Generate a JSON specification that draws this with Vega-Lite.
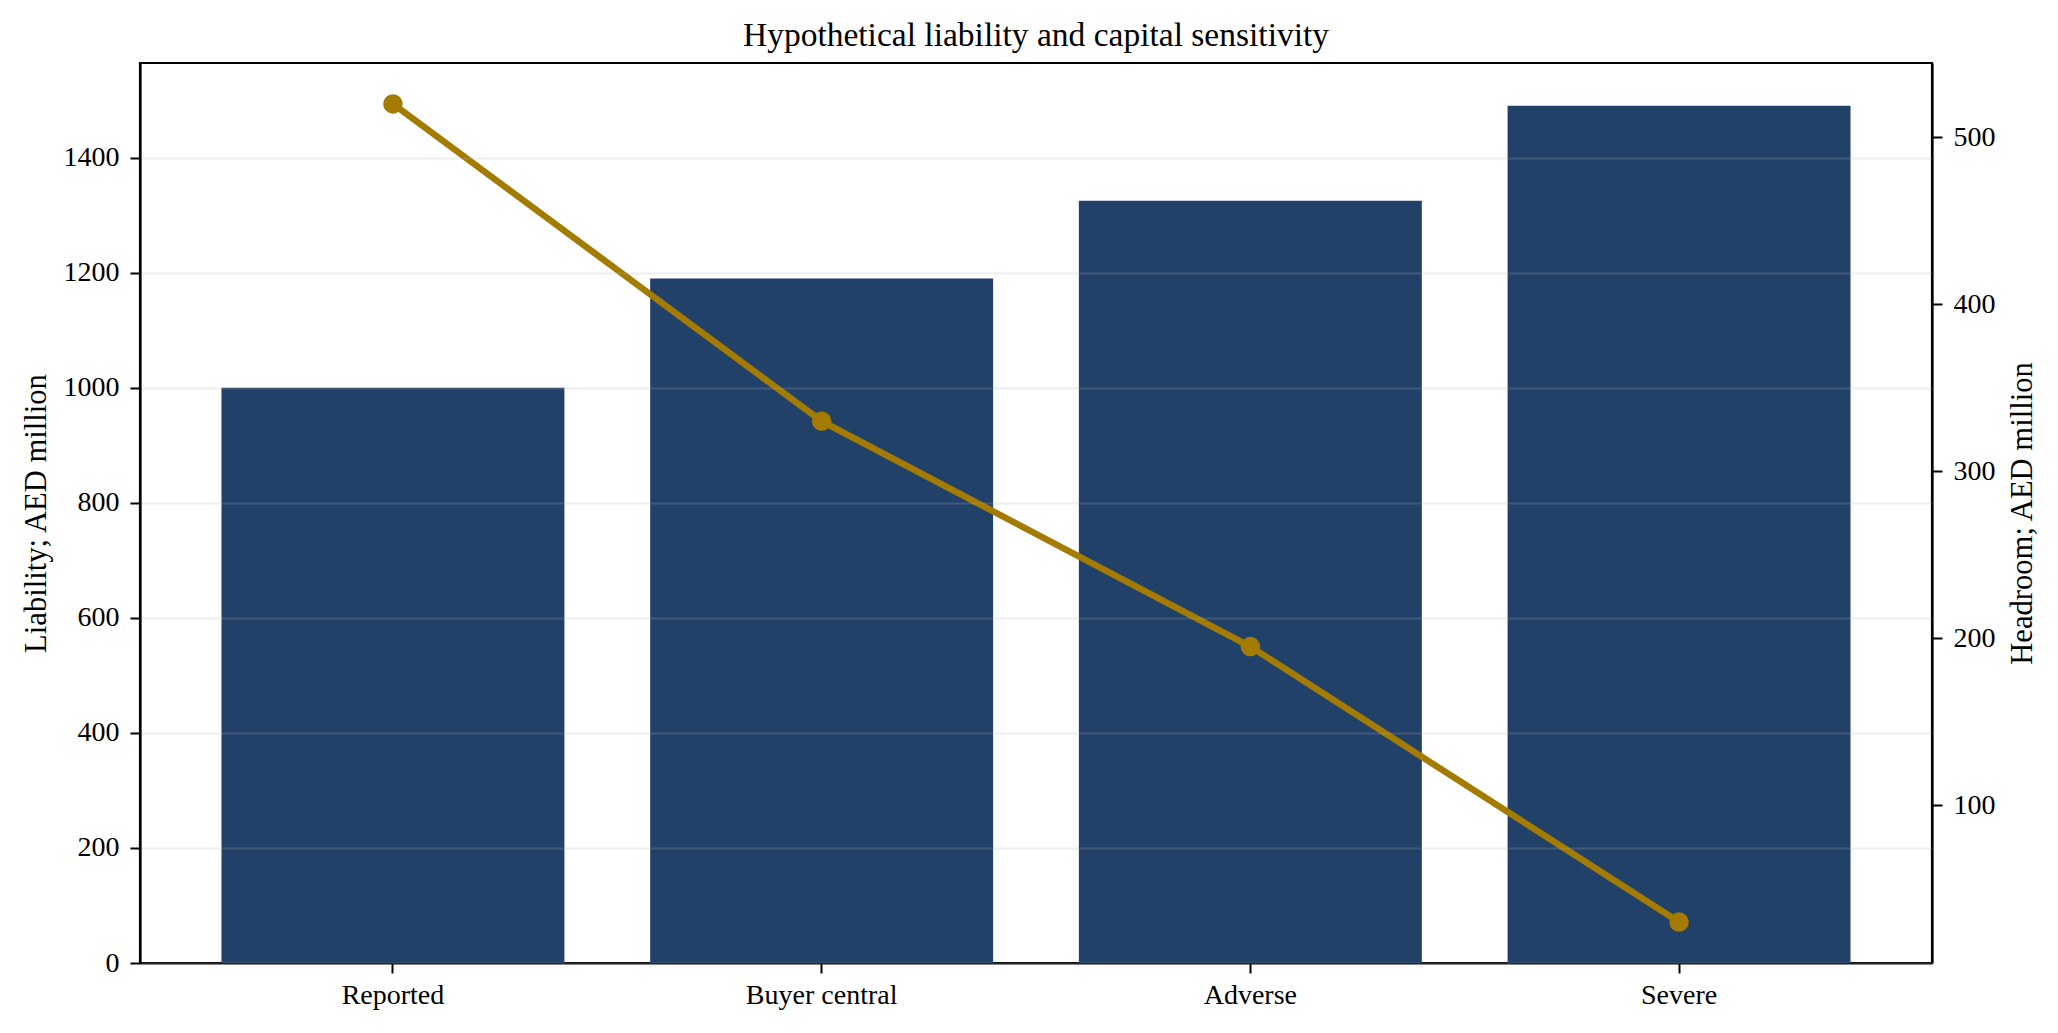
{
  "$schema": "https://vega.github.io/schema/vega-lite/v6.json",
  "description": "Hypothetical liability (bars) and capital headroom (line) by scenario.",
  "autosize": {"type": "none"},
  "width": 1792,
  "height": 900,
  "padding": {"left": 140, "top": 63, "right": 126, "bottom": 70},
  "background": "white",
  "title": {
    "text": "Hypothetical liability and capital sensitivity",
    "font": "Liberation Serif",
    "fontSize": 33.5,
    "fontWeight": "normal",
    "color": "black",
    "anchor": "middle",
    "baseline": "alphabetic",
    "offset": 10,
    "dy": 26
  },
  "data": {
    "values": [
      {"Scenario": "Reported", "Liability": 1000, "Headroom": 520},
      {"Scenario": "Buyer central", "Liability": 1190, "Headroom": 330},
      {"Scenario": "Adverse", "Liability": 1325, "Headroom": 195},
      {"Scenario": "Severe", "Liability": 1490, "Headroom": 30}
    ]
  },
  "encoding": {
    "x": {
      "field": "Scenario",
      "type": "nominal",
      "sort": null,
      "scale": {"paddingInner": 0.2, "paddingOuter": 0.19},
      "axis": {"title": null, "labelAngle": 0, "labelPadding": 8}
    }
  },
  "layer": [
    {
      "mark": {"type": "bar", "color": "#224169"},
      "encoding": {
        "y": {
          "field": "Liability",
          "type": "quantitative",
          "scale": {"domain": [0, 1564.5], "nice": false},
          "axis": {
            "title": "Liability; AED million",
            "values": [0, 200, 400, 600, 800, 1000, 1200, 1400],
            "format": "d",
            "grid": true,
            "gridColor": "#b0b0b0",
            "gridOpacity": 0.22,
            "gridWidth": 2,
            "zindex": 1,
            "labelPadding": 11,
            "titlePadding": 12
          }
        }
      }
    },
    {
      "encoding": {
        "y": {
          "field": "Headroom",
          "type": "quantitative",
          "scale": {"domain": [5.5, 544.5], "nice": false, "zero": false},
          "axis": {
            "orient": "right",
            "title": "Headroom; AED million",
            "values": [100, 200, 300, 400, 500],
            "format": "d",
            "grid": false,
            "labelPadding": 11,
            "titlePadding": 12,
            "titleAngle": 270,
            "titleBaseline": "top"
          }
        }
      },
      "layer": [
        {"mark": {"type": "line", "color": "#A37B00", "strokeWidth": 6.5}},
        {"mark": {"type": "point", "filled": true, "opacity": 1, "color": "#A37B00", "size": 380}}
      ]
    }
  ],
  "resolve": {"scale": {"y": "independent"}},
  "config": {
    "font": "Liberation Serif",
    "view": {"stroke": "black", "strokeWidth": 2.2},
    "axis": {
      "labelFont": "Liberation Serif",
      "labelFontSize": 28,
      "labelColor": "black",
      "titleFont": "Liberation Serif",
      "titleFontSize": 30.6,
      "titleFontWeight": "normal",
      "titleColor": "black",
      "domainColor": "black",
      "domainWidth": 2.2,
      "tickColor": "black",
      "tickWidth": 2,
      "tickSize": 10,
      "grid": false
    }
  }
}
